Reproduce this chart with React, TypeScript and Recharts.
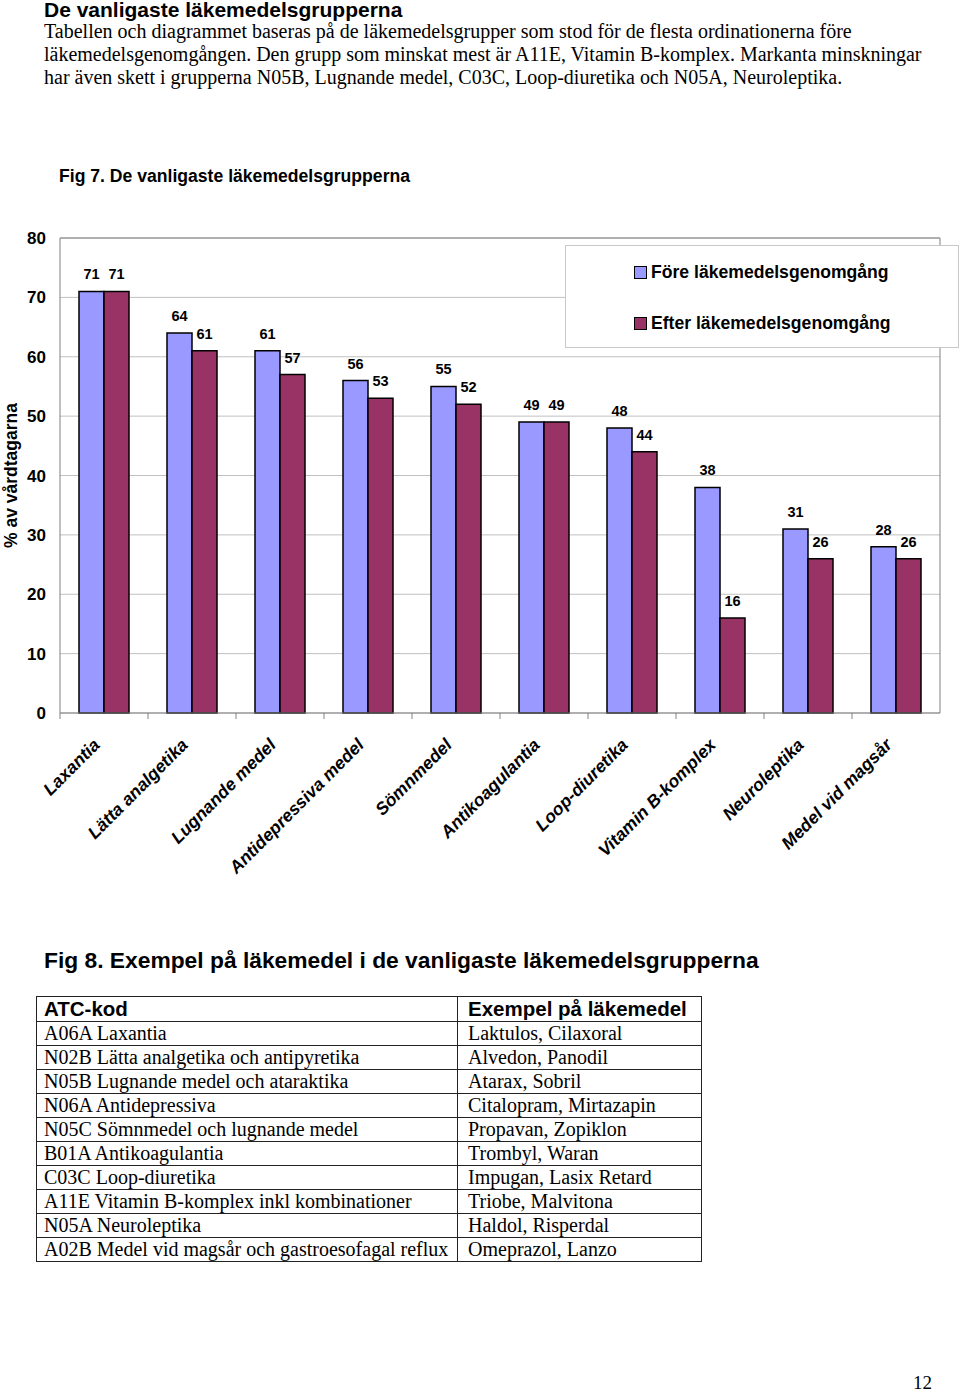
import {
  BarChart,
  Bar,
  XAxis,
  YAxis,
  CartesianGrid,
  Legend,
  LabelList,
} from "recharts";

const categories = [
  "Laxantia",
  "Lätta analgetika",
  "Lugnande medel",
  "Antidepressiva medel",
  "Sömnmedel",
  "Antikoagulantia",
  "Loop-diuretika",
  "Vitamin B-komplex",
  "Neuroleptika",
  "Medel vid magsår",
];
const foreValues = [71, 64, 61, 56, 55, 49, 48, 38, 31, 28];
const efterValues = [71, 61, 57, 53, 52, 49, 44, 16, 26, 26];
const yTicks = [0, 10, 20, 30, 40, 50, 60, 70, 80];
const seriesNames = ["Före läkemedelsgenomgång", "Efter läkemedelsgenomgång"];

const atcCodes = [
  "A06A Laxantia",
  "N02B Lätta analgetika och antipyretika",
  "N05B Lugnande medel och ataraktika",
  "N06A Antidepressiva",
  "N05C Sömnmedel och lugnande medel",
  "B01A Antikoagulantia",
  "C03C Loop-diuretika",
  "A11E Vitamin B-komplex inkl kombinationer",
  "N05A Neuroleptika",
  "A02B Medel vid magsår och gastroesofagal reflux",
];
const examples = [
  "Laktulos, Cilaxoral",
  "Alvedon, Panodil",
  "Atarax, Sobril",
  "Citalopram, Mirtazapin",
  "Propavan, Zopiklon",
  "Trombyl, Waran",
  "Impugan, Lasix Retard",
  "Triobe, Malvitona",
  "Haldol, Risperdal",
  "Omeprazol, Lanzo",
];

const chartData = categories.map((name, i) => ({
  name,
  fore: foreValues[i],
  efter: efterValues[i],
}));

const SANS = '"Liberation Sans", Arial, sans-serif';
const SERIF = '"Liberation Serif", "Times New Roman", serif';
const BLUE = "#9999FF";
const MAROON = "#993366";

const CategoryTick = (props: any) => {
  const { x, y, payload } = props;
  const edge = x - (payload.offset || 0);
  const ax = x - 3;
  const ay = y + 25;
  return (
    <g>
      <line x1={edge} y1={y - 8} x2={edge} y2={y - 2} stroke="#808080" />
      <text
        x={ax}
        y={ay}
        transform={`rotate(-45, ${ax}, ${ay})`}
        textAnchor="end"
        fontFamily={SANS}
        fontWeight="bold"
        fontStyle="italic"
        fontSize={17.6}
        fill="#000"
      >
        {payload.value}
      </text>
    </g>
  );
};

const AxisTitle = (props: any) => {
  const { viewBox } = props;
  const cx = 11;
  const cy = viewBox.y + viewBox.height / 2;
  return (
    <text
      x={cx}
      y={cy}
      transform={`rotate(-90, ${cx}, ${cy})`}
      textAnchor="middle"
      dominantBaseline="central"
      fontFamily={SANS}
      fontWeight="bold"
      fontSize={17.5}
      fill="#000"
    >
      % av vårdtagarna
    </text>
  );
};

const LegendBox = (props: any) => {
  const items = [...(props.payload || [])].sort(
    (a: any, b: any) => seriesNames.indexOf(a.value) - seriesNames.indexOf(b.value)
  );
  return (
    <div
      style={{
        position: "relative",
        width: 394,
        height: 103,
        boxSizing: "border-box",
        border: "1px solid #c8c8c8",
        background: "#fff",
        fontFamily: SANS,
        fontWeight: "bold",
        fontSize: 17.6,
      }}
    >
      {items.map((item: any, i: number) => (
        <div
          key={item.value}
          style={{
            position: "absolute",
            left: 68,
            top: i === 0 ? 14 : 65,
            height: 24,
            display: "flex",
            alignItems: "center",
            whiteSpace: "nowrap",
          }}
        >
          <span
            style={{
              display: "inline-block",
              width: 11,
              height: 11,
              background: item.color,
              border: "1.5px solid #000",
              marginRight: 4,
            }}
          />
          {item.value}
        </div>
      ))}
    </div>
  );
};

const abs = (left: number, top: number, extra: any = {}) => ({
  position: "absolute" as const,
  left,
  top,
  whiteSpace: "nowrap" as const,
  ...extra,
});

const cellBase = {
  border: "1px solid #222",
  whiteSpace: "nowrap" as const,
};

export default function App() {
  return (
    <div
      style={{
        position: "absolute",
        left: 0,
        top: 0,
        width: 960,
        height: 1391,
        background: "#fff",
        color: "#000",
      }}
    >
      <div style={abs(44, -2, { fontFamily: SANS, fontWeight: "bold", fontSize: 21, lineHeight: "24px" })}>
        De vanligaste läkemedelsgrupperna
      </div>
      <div style={abs(44, 20, { fontFamily: SERIF, fontSize: 20, lineHeight: "23px" })}>
        Tabellen och diagrammet baseras på de läkemedelsgrupper som stod för de flesta ordinationerna före
        <br />
        läkemedelsgenomgången. Den grupp som minskat mest är A11E, Vitamin B-komplex. Markanta minskningar
        <br />
        har även skett i grupperna N05B, Lugnande medel, C03C, Loop-diuretika och N05A, Neuroleptika.
      </div>
      <div style={abs(59, 165, { fontFamily: SANS, fontWeight: "bold", fontSize: 17.6, lineHeight: "22px" })}>
        Fig 7. De vanligaste läkemedelsgrupperna
      </div>

      <div style={{ position: "absolute", left: 0, top: 220 }}>
        <BarChart
          width={960}
          height={680}
          data={chartData}
          margin={{ top: 18, right: 20, left: 0, bottom: 0 }}
          barGap={0}
          barSize={25}
        >
          <CartesianGrid vertical={false} stroke="#c0c0c0" />
          <CartesianGrid
            stroke="#808080"
            horizontalCoordinatesGenerator={({ offset }: any) => [offset.top]}
            verticalCoordinatesGenerator={({ offset }: any) => [offset.left + offset.width]}
          />
          <XAxis
            dataKey="name"
            height={187}
            interval={0}
            stroke="#808080"
            tickLine={false}
            tick={<CategoryTick />}
          />
          <YAxis
            width={60}
            domain={[0, 80]}
            ticks={yTicks}
            stroke="#808080"
            tickLine={false}
            tickMargin={8}
            tick={{ fill: "#000", fontFamily: SANS, fontWeight: "bold", fontSize: 17 }}
            label={<AxisTitle />}
          />
          <Legend
            layout="vertical"
            align="center"
            verticalAlign="middle"
            wrapperStyle={{ left: 565, top: 25, width: 394, height: 103 }}
            content={<LegendBox />}
          />
          <Bar
            dataKey="fore"
            name={seriesNames[0]}
            fill={BLUE}
            stroke="#000"
            strokeWidth={1.5}
            isAnimationActive={false}
          >
            <LabelList
              dataKey="fore"
              position="top"
              offset={12}
              fill="#000"
              fontFamily={SANS}
              fontWeight="bold"
              fontSize={14.5}
            />
          </Bar>
          <Bar
            dataKey="efter"
            name={seriesNames[1]}
            fill={MAROON}
            stroke="#000"
            strokeWidth={1.5}
            isAnimationActive={false}
          >
            <LabelList
              dataKey="efter"
              position="top"
              offset={12}
              fill="#000"
              fontFamily={SANS}
              fontWeight="bold"
              fontSize={14.5}
            />
          </Bar>
        </BarChart>
      </div>

      <div style={abs(44, 946, { fontFamily: SANS, fontWeight: "bold", fontSize: 22.8, lineHeight: "28px" })}>
        Fig 8. Exempel på läkemedel i de vanligaste läkemedelsgrupperna
      </div>

      <table
        style={{
          position: "absolute",
          left: 36,
          top: 996,
          borderCollapse: "collapse",
          tableLayout: "fixed",
          width: 665,
        }}
      >
        <colgroup>
          <col style={{ width: 421 }} />
          <col style={{ width: 244 }} />
        </colgroup>
        <tbody>
          <tr style={{ height: 25 }}>
            <td style={{ ...cellBase, padding: "0 0 0 7px", fontFamily: SANS, fontWeight: "bold", fontSize: 20.5, lineHeight: "24px" }}>
              ATC-kod
            </td>
            <td style={{ ...cellBase, padding: "0 0 0 10px", fontFamily: SANS, fontWeight: "bold", fontSize: 20.5, lineHeight: "24px" }}>
              Exempel på läkemedel
            </td>
          </tr>
          {atcCodes.map((code, i) => (
            <tr key={code} style={{ height: 24 }}>
              <td style={{ ...cellBase, padding: "0 0 0 7px", fontFamily: SERIF, fontSize: 20, lineHeight: "23px" }}>
                {code}
              </td>
              <td style={{ ...cellBase, padding: "0 0 0 10px", fontFamily: SERIF, fontSize: 20, lineHeight: "23px" }}>
                {examples[i]}
              </td>
            </tr>
          ))}
        </tbody>
      </table>

      <div style={abs(913, 1372, { fontFamily: SERIF, fontSize: 19, lineHeight: "22px" })}>12</div>
    </div>
  );
}
